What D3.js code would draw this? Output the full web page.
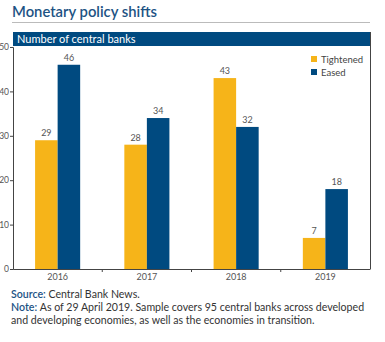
<!DOCTYPE html>
<html>
<head>
<meta charset="utf-8">
<script src="https://cdn.jsdelivr.net/npm/d3@7.9.0/dist/d3.min.js"></script>
<style>
  body { margin: 0; background: #fff; }
  svg { display: block; font-family: Lato, "Open Sans", sans-serif; }
</style>
</head>
<body>
<svg id="chart" width="385" height="342"></svg>
<script>
const years = ["2016", "2017", "2018", "2019"];
const seriesNames = ["Tightened", "Eased"];
const tightened = [29, 28, 43, 7];
const eased = [46, 34, 32, 18];
const yTicks = [0, 10, 20, 30, 40, 50];

const colors = { Tightened: "#f6b419", Eased: "#004a80" };
const blue = "#004a80";

const svg = d3.select("#chart");
const plotLeft = 13, plotRight = 370, plotTop = 46, plotBottom = 269;

// title
svg.append("text")
  .attr("x", 12).attr("y", 17)
  .attr("fill", "#1d5384")
  .attr("font-size", 14.8).attr("font-weight", 600)
  .text("Monetary policy shifts");

svg.append("line")
  .attr("x1", 12).attr("x2", plotRight)
  .attr("y1", 22.5).attr("y2", 22.5)
  .attr("stroke", "#bbb").attr("stroke-width", 1);

// header band
svg.append("rect")
  .attr("x", plotLeft).attr("y", 32)
  .attr("width", plotRight - plotLeft).attr("height", 14)
  .attr("fill", blue);
svg.append("text")
  .attr("x", 17).attr("y", 43)
  .attr("fill", "#fff").attr("font-size", 11)
  .text("Number of central banks");

// right frame line
svg.append("line")
  .attr("x1", plotRight + 0.5).attr("x2", plotRight + 0.5)
  .attr("y1", 32).attr("y2", plotBottom)
  .attr("stroke", "#444").attr("stroke-width", 1);

const x = d3.scaleBand().domain(years).range([plotLeft, plotRight]);
const xs = d3.scaleBand().domain(seriesNames)
  .range([0, x.bandwidth()]).paddingInner(0).paddingOuter(0.98);
const y = d3.scaleLinear().domain([0, 50]).range([plotBottom, plotTop + 1]);

const rows = years.map((yr, i) => ({
  year: yr,
  values: [
    { key: "Tightened", value: tightened[i] },
    { key: "Eased", value: eased[i] }
  ]
}));

const groups = svg.append("g").selectAll("g")
  .data(rows).enter().append("g")
  .attr("transform", d => `translate(${x(d.year)},0)`);

groups.selectAll("rect")
  .data(d => d.values).enter().append("rect")
  .attr("x", d => xs(d.key))
  .attr("y", d => y(d.value))
  .attr("width", xs.bandwidth())
  .attr("height", d => y(0) - y(d.value))
  .attr("fill", d => colors[d.key]);

groups.selectAll("text")
  .data(d => d.values).enter().append("text")
  .attr("x", d => xs(d.key) + xs.bandwidth() / 2)
  .attr("y", d => y(d.value) - 4)
  .attr("text-anchor", "middle")
  .attr("font-size", 9).attr("fill", "#555")
  .text(d => d.value);

// y axis
const yAxis = svg.append("g")
  .attr("transform", `translate(${plotLeft},0)`)
  .call(d3.axisLeft(y).tickValues(yTicks).tickSize(3).tickPadding(1));
yAxis.select(".domain").attr("stroke", "#444");
yAxis.selectAll(".tick line").attr("stroke", "#444");
yAxis.selectAll("text").attr("font-size", 8.5).attr("fill", "#555")
  .attr("font-family", "Lato, sans-serif");

// x axis
const xAxis = svg.append("g")
  .attr("transform", `translate(0,${plotBottom})`)
  .call(d3.axisBottom(x).tickSize(0).tickPadding(5));
xAxis.select(".domain").attr("stroke", "#444");
xAxis.selectAll("text").attr("font-size", 9).attr("fill", "#555")
  .attr("font-family", "Lato, sans-serif");
xAxis.selectAll(".sep")
  .data(years.slice(1)).enter().append("line")
  .attr("class", "sep")
  .attr("x1", d => x(d)).attr("x2", d => x(d))
  .attr("y1", 0).attr("y2", 3)
  .attr("stroke", "#444");

// legend
const legend = svg.append("g").attr("transform", "translate(311,56)");
seriesNames.forEach((name, i) => {
  const g = legend.append("g").attr("transform", `translate(0,${i * 13})`);
  g.append("rect").attr("width", 6).attr("height", 6).attr("fill", colors[name]);
  g.append("text").attr("x", 10).attr("y", 6.5)
    .attr("font-size", 9.5).attr("fill", "#444").text(name);
});

// source and note
const notes = svg.append("g").attr("font-size", 10.6).attr("fill", "#333");
const src = notes.append("text").attr("x", 11).attr("y", 298);
src.append("tspan").attr("fill", "#1d5384").attr("font-weight", 600).text("Source: ");
src.append("tspan").text("Central Bank News.");
const n1 = notes.append("text").attr("x", 11).attr("y", 311);
n1.append("tspan").attr("fill", "#1d5384").attr("font-weight", 600).text("Note: ");
n1.append("tspan").text("As of 29 April 2019. Sample covers 95 central banks across developed");
notes.append("text").attr("x", 11).attr("y", 324)
  .text("and developing economies, as well as the economies in transition.");
</script>
</body>
</html>
